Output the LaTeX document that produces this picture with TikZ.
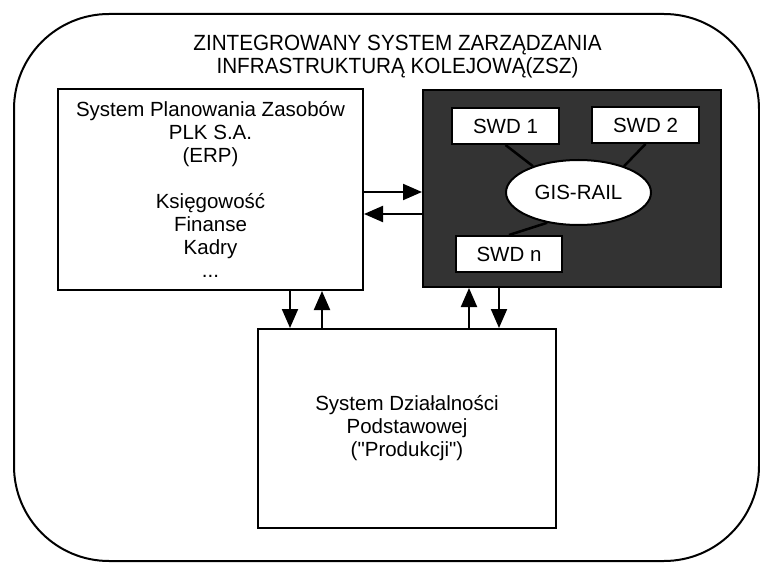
\documentclass[tikz,border=0pt]{standalone}
\usepackage{fontspec}
\setmainfont{Liberation Sans}[Ligatures=TeXOff]
\newfontfamily\titlefont[FakeStretch=0.94]{Liberation Sans}
\usetikzlibrary{arrows.meta,shapes.geometric}

\tikzset{
  box/.style={draw, line width=2pt, fill=white, inner sep=0pt, align=center,
    font=\fontsize{20.5}{23}\selectfont},
  swdbox/.style={box, minimum width=107pt, minimum height=36pt},
  pil/.style={-{Triangle[length=19pt,width=16pt]}, line width=2pt},
  link/.style={line width=2.5pt}
}

\begin{document}
\begin{tikzpicture}[x=1pt,y=1pt]
  \useasboundingbox (0,0) rectangle (760,563);
  \node[draw, line width=2pt, rounded corners=95pt, minimum width=745pt, minimum height=547pt] (zsz) at (386.5,275.5) {};
  \node[font=\titlefont\fontsize{22}{23}\selectfont, align=center] (title) at (397.5,506) {ZINTEGROWANY SYSTEM ZARZĄDZANIA\\INFRASTRUKTURĄ KOLEJOWĄ(ZSZ)};

  \node[box, minimum width=305pt, minimum height=201pt] (erp) at (210.5,373.5)
    {System Planowania Zasobów\\PLK S.A.\\(ERP)\\[23pt]Księgowość\\Finanse\\Kadry\\...};

  \node[box, fill=black!80, minimum width=298pt, minimum height=197pt] (swd) at (572,374.5) {};
  \node[swdbox] (swdA) at (505.5,437) {SWD 1};
  \node[swdbox] (swdB) at (645.5,438) {SWD 2};
  \node[swdbox, minimum width=106pt] (swdN) at (509,309) {SWD n};
  \node[box, ellipse, minimum width=145pt, minimum height=65pt] (gis) at (578.5,370.5) {GIS-RAIL};
  \draw[link] (swdA.south) -- (gis.150);
  \draw[link] (swdB.south) -- (gis.30);
  \draw[link] (swdN.north) -- (gis.224);

  \node[box, minimum width=298pt, minimum height=199pt] (prod) at (407,134.5)
    {System Działalności\\Podstawowej\\("Produkcji")};

  % wymiana danych
  \draw[pil] ([yshift=-2.5pt]erp.east) -- ([yshift=-2.5pt]erp.east -| swd.west);
  \draw[pil] ([yshift=-24.5pt]erp.east -| swd.west) -- ([yshift=-24.5pt]erp.east);
  \draw[pil] ([xshift=79.5pt]erp.south) -- ([xshift=79.5pt]erp.south |- prod.north);
  \draw[pil] ([xshift=111.5pt]erp.south |- prod.north) -- ([xshift=111.5pt]erp.south);
  \draw[pil] ([xshift=-103pt]swd.south |- prod.north) -- ([xshift=-103pt]swd.south);
  \draw[pil] ([xshift=-73pt]swd.south) -- ([xshift=-73pt]swd.south |- prod.north);
\end{tikzpicture}
\end{document}
